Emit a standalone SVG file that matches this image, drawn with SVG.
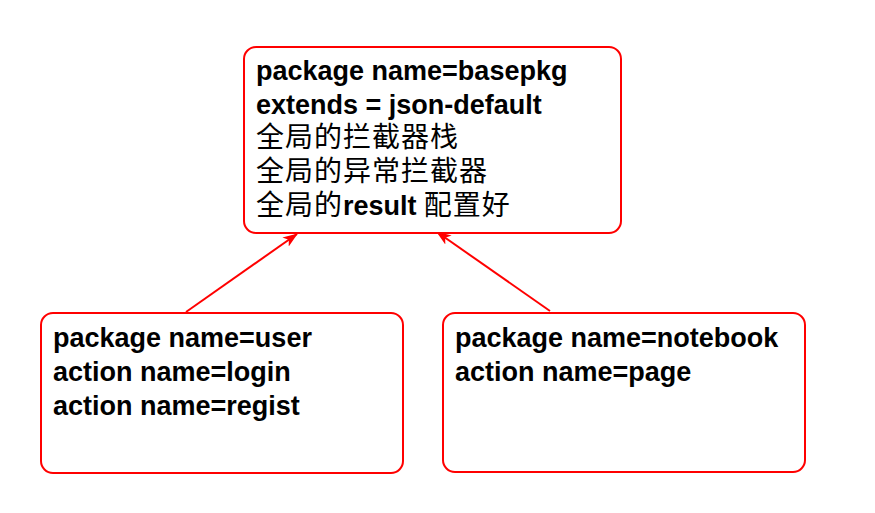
<svg xmlns="http://www.w3.org/2000/svg" width="875" height="513" viewBox="0 0 875 513">
<style>
.box{fill:#fff;stroke:#ff0000;stroke-width:2}
.en{font-family:"Liberation Sans",Arial,sans-serif;font-weight:bold;font-size:27px;fill:#000}
.zh{font-family:"Noto Sans CJK SC","Liberation Sans",sans-serif;font-weight:normal;font-size:28px;fill:#000}
.zhb{font-family:"Liberation Sans",Arial,sans-serif;font-weight:bold;font-size:27px}
.conn{stroke:#ff0000;stroke-width:2;fill:none}
</style>
<defs>
<marker id="arr" viewBox="0 0 15 11" refX="14" refY="5.5" markerWidth="15" markerHeight="11" markerUnits="userSpaceOnUse" orient="auto">
<path d="M0,0 L15,5.5 L0,11 L4,5.5 Z" fill="#ff0000"/>
</marker>
</defs>
<rect width="875" height="513" fill="#fff"/>
<g id="connectors">
<line class="conn" x1="186" y1="312" x2="297" y2="234" marker-end="url(#arr)"/>
<line class="conn" x1="550" y1="311" x2="437" y2="232" marker-end="url(#arr)"/>
</g>
<g id="basepkg">
<rect class="box" x="244" y="47" width="377" height="186" rx="12"/>
<text class="en" x="256" y="80">package name=basepkg</text>
<text class="en" x="256" y="114">extends = json-default</text>
<text class="zh" x="256" y="147" letter-spacing="1">全局的拦截器栈</text>
<text class="zh" x="256" y="181" letter-spacing="1">全局的异常拦截器</text>
<text class="zh" x="256" y="215" letter-spacing="1">全局的<tspan class="zhb" letter-spacing="0">result</tspan> 配置好</text>
</g>
<g id="user">
<rect class="box" x="41" y="313" width="362" height="160" rx="12"/>
<text class="en" x="53" y="347">package name=user</text>
<text class="en" x="53" y="381">action name=login</text>
<text class="en" x="53" y="415">action name=regist</text>
</g>
<g id="notebook">
<rect class="box" x="443" y="313" width="362" height="159" rx="12"/>
<text class="en" x="455" y="347">package name=notebook</text>
<text class="en" x="455" y="381">action name=page</text>
</g>
</svg>
